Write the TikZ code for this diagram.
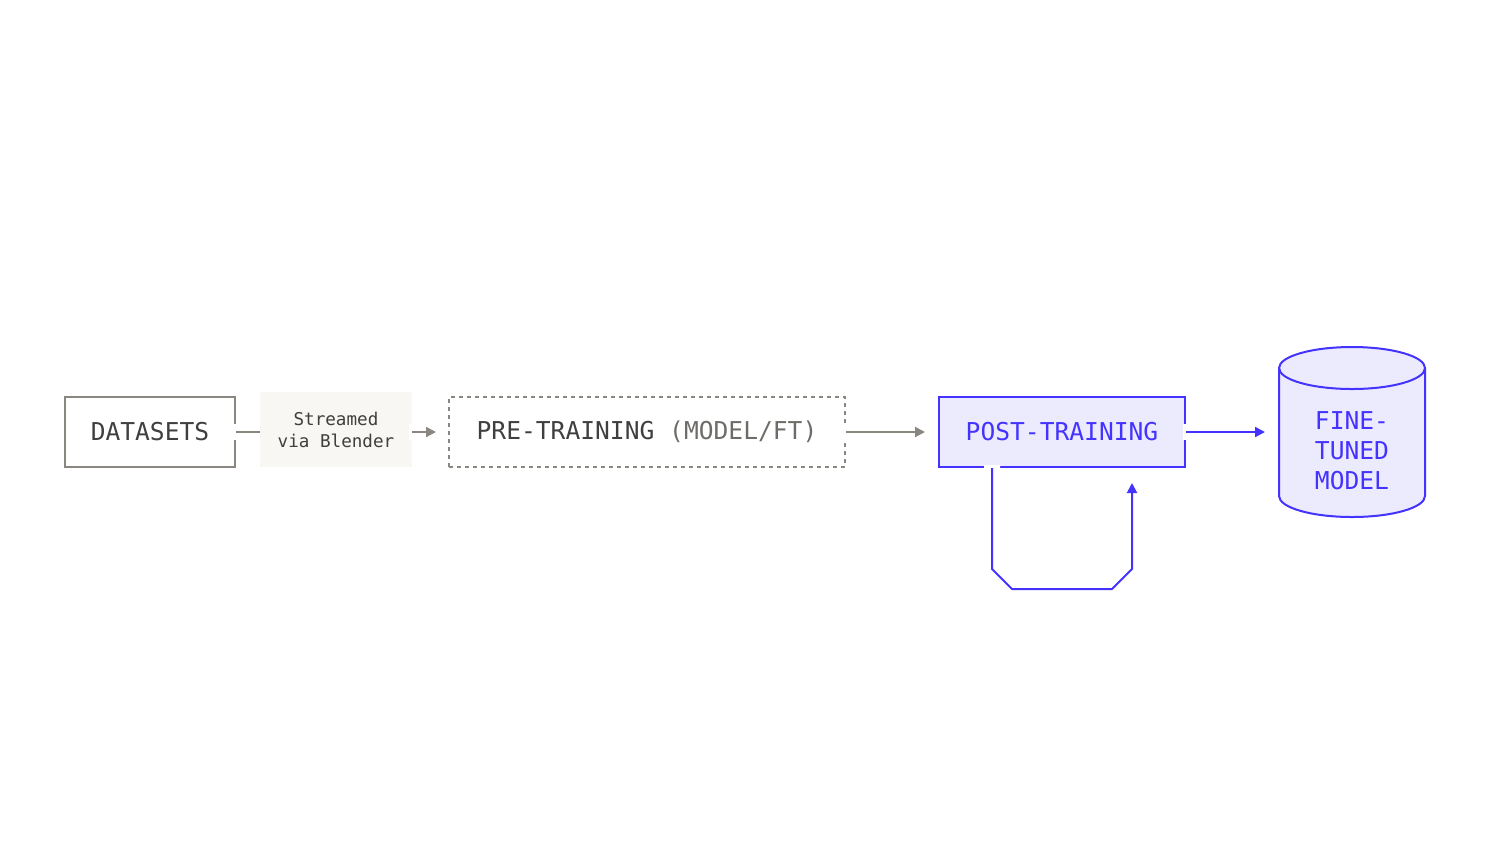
\documentclass[tikz,border=0pt]{standalone}
\usepackage{fontspec}
\setmonofont{DejaVu Sans Mono}
\usetikzlibrary{arrows.meta,calc}
\definecolor{graystroke}{HTML}{8A8680}
\definecolor{darktext}{HTML}{3F3F3F}
\definecolor{midtext}{HTML}{6E6C68}
\definecolor{beige}{HTML}{F8F7F3}
\definecolor{brandblue}{HTML}{4433FF}
\definecolor{lavender}{HTML}{ECEBFD}
\tikzset{
  box/.style={rectangle, inner sep=0pt, line width=1pt, font=\ttfamily\fontsize{12.3}{15}\selectfont},
  graybox/.style={box, draw=graystroke, text=darktext},
  dashbox/.style={box, draw=graystroke, text=darktext, dash pattern=on 2pt off 2pt},
  bluebox/.style={box, draw=brandblue, fill=lavender, text=brandblue},
  labelbox/.style={rectangle, inner sep=0pt, fill=beige, text=darktext, align=center, font=\ttfamily\fontsize{8.8}{11}\selectfont},
  halo/.style={preaction={draw=white, line width=8pt, arrows=-, shorten <=-1.5pt}},
  grayline/.style={halo, draw=graystroke, line width=1pt},
  grayarrow/.style={grayline, -{Triangle[length=5pt,width=5pt]}},
  bluearrow/.style={halo, draw=brandblue, line width=1pt, -{Triangle[length=5pt,width=5pt]}},
}
\begin{document}
\begin{tikzpicture}[x=0.5pt,y=-0.5pt]
\useasboundingbox (0,0) rectangle (1488,864);
% nodes
\node[graybox, minimum width=85pt, minimum height=35pt] (ds) at (150,432) {DATASETS};
\node[labelbox, minimum width=76pt, minimum height=37.5pt] (sv) at (336,429.5) {Streamed\\via Blender};
\node[dashbox, minimum width=198pt, minimum height=35pt] (pre) at (647,432) {PRE-TRAINING {\color{midtext}(MODEL/FT)}};
\node[bluebox, minimum width=123pt, minimum height=35pt] (post) at (1062,432) {POST-TRAINING};
% cylinder
\fill[lavender] (1279,368) -- (1279,496) arc[start angle=180, end angle=0, x radius=73, y radius=21] -- (1425,368) arc[start angle=0, end angle=-180, x radius=73, y radius=21] -- cycle;
\draw[brandblue, line width=1pt] (1279,368) -- (1279,496) arc[start angle=180, end angle=0, x radius=73, y radius=21] -- (1425,368);
\draw[brandblue, line width=1pt] (1352,368) ellipse[x radius=73, y radius=21];
\node[box, text=brandblue, align=center, minimum width=73pt, minimum height=50pt] (ft) at (1352,451) {FINE-\\TUNED\\MODEL};
% connectors
\draw[grayline] (ds.east) -- (ds.east -| sv.west);
\draw[grayarrow, shorten >=6pt] (ds.east -| sv.east) -- (ds.east -| pre.west);
\draw[grayarrow, shorten >=6.5pt] (pre.east) -- (post.west);
\draw[bluearrow, shorten >=6.5pt] (post.east) -- (post.east -| ft.west);
\coordinate (l1) at ($(post.south)+(-70,101)$);
\coordinate (l2) at ($(post.south)+(-50,121)$);
\coordinate (l3) at ($(post.south)+(50,121)$);
\coordinate (l4) at ($(post.south)+(70,101)$);
\coordinate (lend) at ($(post.south)+(70,15)$);
\draw[bluearrow] ($(post.south)+(-70,0)$) -- (l1) -- (l2) -- (l3) -- (l4) -- (lend);
\end{tikzpicture}
\end{document}
